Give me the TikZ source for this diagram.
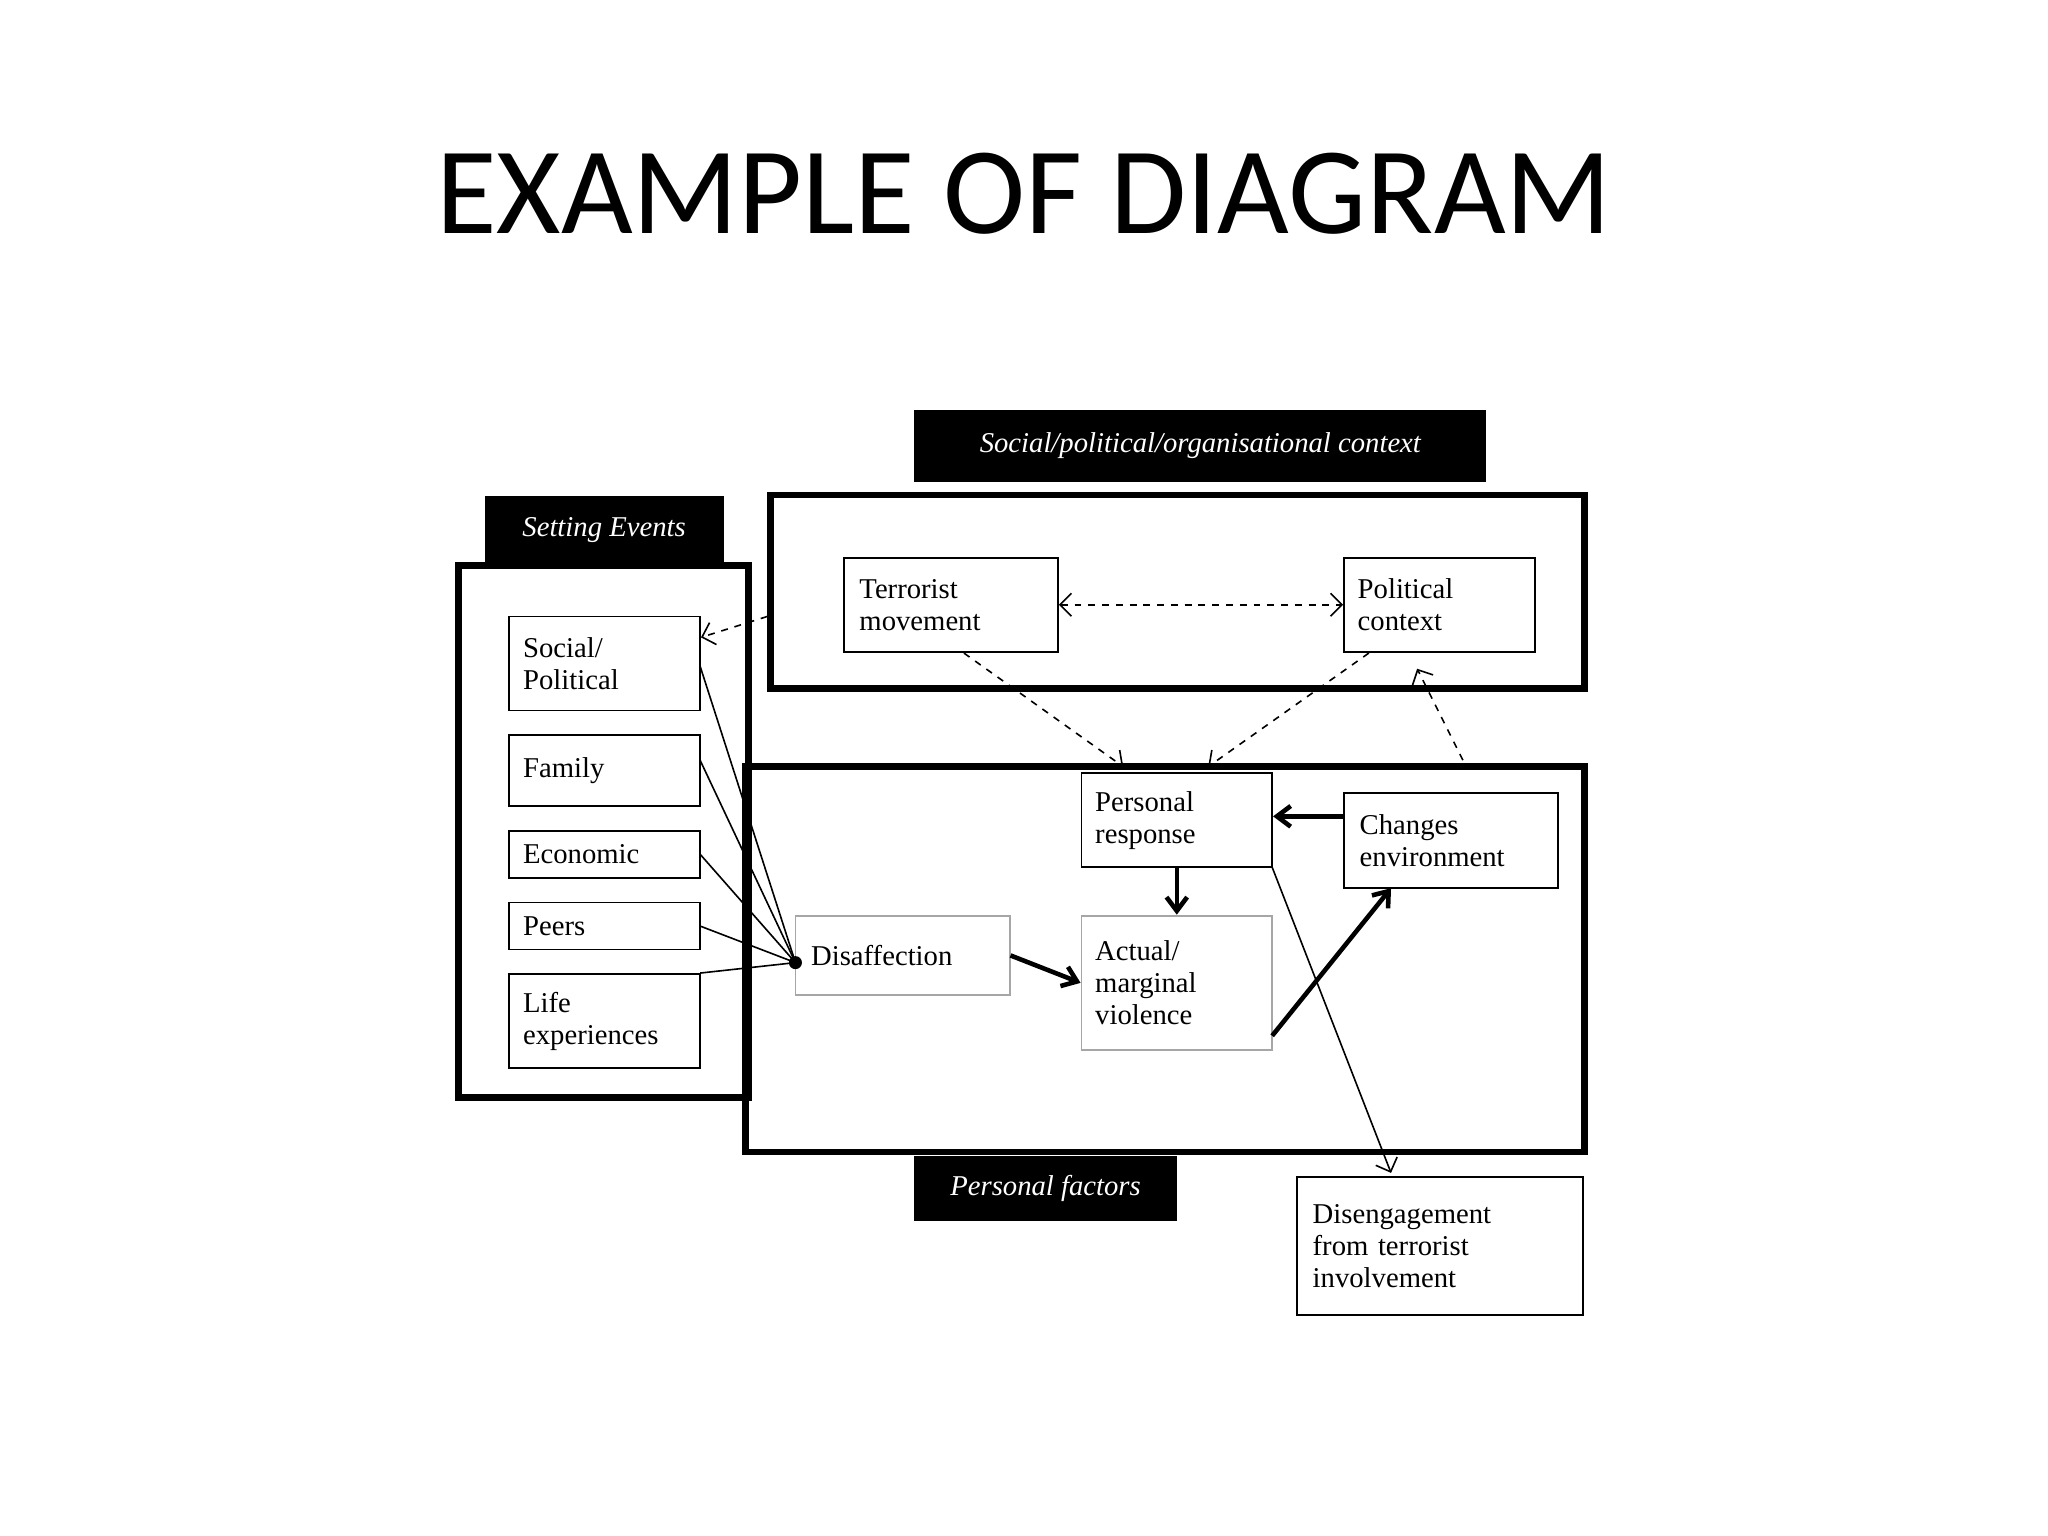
\documentclass[tikz,border=0pt]{standalone}
\usepackage{fontspec}
\setmainfont{Liberation Serif}
\newfontfamily\titlefont{Carlito}
\usetikzlibrary{arrows.meta}
\begin{document}
\begin{tikzpicture}[x=0.02cm,y=-0.02cm,
  box/.style={draw,line width=0.8pt,inner sep=0pt,font=\fontsize{12.5}{14}\selectfont,align=left},
  gbox/.style={box,draw=gray!70},
  frame/.style={draw,line width=3pt,inner sep=0pt},
  lab/.style={fill=black,text=white,inner sep=0pt,font=\fontsize{12.5}{14}\selectfont\itshape},
  dsh/.style={dashed,line width=0.7pt,-{Straight Barb[length=5pt]}},
  thk/.style={line width=2pt,-{Straight Barb[length=6pt,width=9pt]}},
  thn/.style={line width=0.7pt}]
\useasboundingbox (0,0) rectangle (1568,1176);
\node[font=\titlefont\fontsize{54}{60}\selectfont] (title) at (784,148) {EXAMPLE OF DIAGRAM};
% labels
\node[lab,minimum width=8.76cm,minimum height=1.1cm] (ctxlab) at (919,341.5) {Social/political/organisational context};
\node[lab,minimum width=3.66cm,minimum height=1.04cm] (setlab) at (462.5,406) {Setting Events};
\node[lab,minimum width=4.02cm,minimum height=1cm] (perlab) at (800.5,910) {Personal factors};
% frames
\node[frame,minimum width=12.46cm,minimum height=2.96cm] (top) at (901.5,453) {};
\node[frame,minimum width=4.44cm,minimum height=8.14cm] (left) at (462,636.5) {};
\node[frame,minimum width=12.84cm,minimum height=5.9cm] (pers) at (892,734.5) {};
% boxes
\node[box,minimum width=3.28cm,minimum height=1.44cm,text width=2.8cm] (tm) at (728,463) {Terrorist\\movement};
\node[box,minimum width=2.92cm,minimum height=1.44cm,text width=2.5cm] (pc) at (1102,463) {Political\\context};
\node[box,minimum width=2.92cm,minimum height=1.44cm,text width=2.5cm] (sp) at (463,508) {Social/\\Political};
\node[box,minimum width=2.92cm,minimum height=1.08cm,text width=2.5cm] (fa) at (463,590) {Family};
\node[box,minimum width=2.92cm,minimum height=0.72cm,text width=2.5cm] (ec) at (463,654) {Economic};
\node[box,minimum width=2.92cm,minimum height=0.72cm,text width=2.5cm] (pe) at (463,709) {Peers};
\node[box,minimum width=2.92cm,minimum height=1.44cm,text width=2.5cm] (le) at (463,782) {Life\\experiences};
\node[gbox,minimum width=3.28cm,minimum height=1.22cm,text width=2.8cm] (di) at (691,731.5) {Disaffection\\[6pt]};
\node[box,minimum width=2.92cm,minimum height=1.44cm,text width=2.5cm] (pr) at (901,628) {Personal\\response};
\node[gbox,minimum width=2.92cm,minimum height=2.06cm,text width=2.5cm] (av) at (901,752.5) {Actual/\\marginal\\violence};
\node[box,minimum width=3.28cm,minimum height=1.46cm,text width=2.8cm] (ce) at (1111,643.5) {Changes\\environment};
\node[box,minimum width=4.38cm,minimum height=2.12cm,text width=3.9cm] (de) at (1102.5,954) {Disengagement\\from terrorist\\involvement};
% connectors
\coordinate (dot) at (609,737);
\fill (dot) circle (5);
\foreach \n/\y in {sp/510,fa/582,ec/654,pe/709,le/745}
  \draw[thn] (536,\y) -- (dot);
\draw[dsh] (top.west |- 0,472) -- (sp.east |- 0,488);
\draw[dashed,line width=0.7pt,{Straight Barb[length=5pt]}-{Straight Barb[length=5pt]}] (tm.east) -- (pc.west);
\draw[dsh] (738,500) -- (860,587);
\draw[dsh] (1048,500) -- (925,587);
\draw[dsh] (1120,582) -- (1085,512);
\draw[thk] (di.east) -- (av.west);
\draw[thk] (pr.south) -- (av.north);
\draw[thk] (ce.west |- 0,625) -- (pr.east |- 0,625);
\draw[thk] (974,793) -- (1065,680);
\draw[thn,-{Straight Barb[length=5pt]}] (974,664) -- (1065,898);
\end{tikzpicture}
\end{document}
